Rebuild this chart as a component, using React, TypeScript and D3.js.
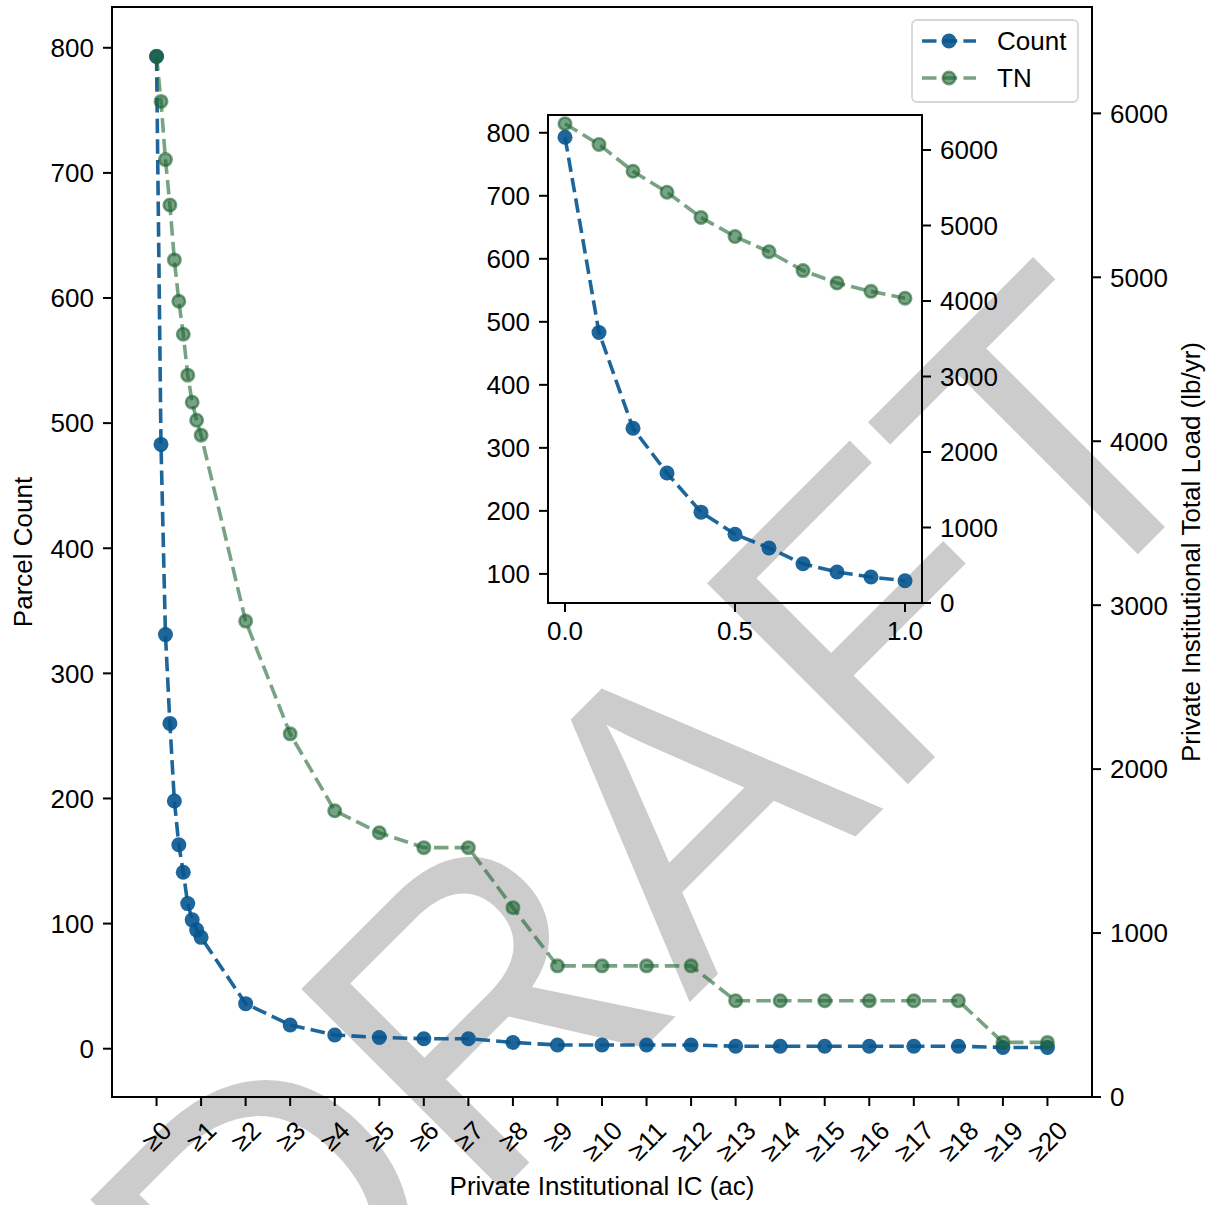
import React from "react";
import * as d3 from "d3";

// ---------- data ----------
const thresholds = [0, 0.1, 0.2, 0.3, 0.4, 0.5, 0.6, 0.7, 0.8, 0.9, 1.0, 2, 3, 4, 5, 6, 7, 8, 9, 10, 11, 12, 13, 14, 15, 16, 17, 18, 19, 20];
const parcelCount = [793, 483, 331, 260, 198, 163, 141, 116, 103, 95, 89, 36, 19, 11, 9, 8, 8, 5, 3, 3, 3, 3, 2, 2, 2, 2, 2, 2, 1, 1];
const tnLoad = [6348, 6073, 5718, 5441, 5106, 4854, 4653, 4403, 4238, 4128, 4037, 2903, 2215, 1746, 1612, 1521, 1521, 1155, 800, 800, 800, 800, 587, 587, 587, 587, 587, 587, 333, 333];
const xTickValues = [0, 1, 2, 3, 4, 5, 6, 7, 8, 9, 10, 11, 12, 13, 14, 15, 16, 17, 18, 19, 20];
const xTickLabels = ["≥0", "≥1", "≥2", "≥3", "≥4", "≥5", "≥6", "≥7", "≥8", "≥9", "≥10", "≥11", "≥12", "≥13", "≥14", "≥15", "≥16", "≥17", "≥18", "≥19", "≥20"];
const leftTicks = [0, 100, 200, 300, 400, 500, 600, 700, 800];
const rightTicks = [0, 1000, 2000, 3000, 4000, 5000, 6000];
const insetLeftTicks = [100, 200, 300, 400, 500, 600, 700, 800];
const insetRightTicks = [0, 1000, 2000, 3000, 4000, 5000, 6000];
const insetXTicks = [0, 0.5, 1.0];
const seriesNames = ["Count", "TN"];

// ---------- style ----------
const FONT = "'Liberation Sans', Arial, Helvetica, sans-serif";
const FS = 26;
const BLUE = "#05558f";
const BLUE_OP = 0.9;
const GREEN = "#1e6432";
const GREEN_OP = 0.6;
const DASH = "14.5 6.2";
const LW = 3.6;
const TICK = 9;
const PAD = 9;

function pad(ext: [number, number], frac = 0.05): [number, number] {
  const r = ext[1] - ext[0];
  return [ext[0] - r * frac, ext[1] + r * frac];
}

function labelWidth(s: string) {
  let w = 0;
  for (const ch of s) w += ch === "≥" ? 0.548 : 0.556;
  return w * FS;
}

export default function App() {
  const W = 1209, H = 1205;
  // main axes
  const L = 112, R = 1092, T = 7, B = 1097;
  const x = d3.scaleLinear().domain([-1, 21]).range([L, R]);
  const yL = d3.scaleLinear().domain(pad(d3.extent(parcelCount) as [number, number])).range([B, T]);
  const tnExt = pad(d3.extent(tnLoad) as [number, number]);
  const yR = d3.scaleLinear().domain([0, tnExt[1]]).range([B, T]);

  // inset axes
  const iL = 548, iR = 922, iT = 115, iB = 603;
  const insetN = 11;
  const insX = thresholds.slice(0, insetN);
  const insC = parcelCount.slice(0, insetN);
  const insT = tnLoad.slice(0, insetN);
  const xi = d3.scaleLinear().domain(pad([0, 1])).range([iL, iR]);
  const yiL = d3.scaleLinear().domain(pad(d3.extent(insC) as [number, number])).range([iB, iT]);
  const yiR = d3.scaleLinear().domain([0, pad(d3.extent(insT) as [number, number])[1]]).range([iB, iT]);

  const idx = thresholds.map((_, i) => i);
  const countLine = d3.line<number>().x((i) => x(thresholds[i])).y((i) => yL(parcelCount[i]));
  const tnLine = d3.line<number>().x((i) => x(thresholds[i])).y((i) => yR(tnLoad[i]));
  const iidx = insX.map((_, i) => i);
  const iCountLine = d3.line<number>().x((i) => xi(insX[i])).y((i) => yiL(insC[i]));
  const iTnLine = d3.line<number>().x((i) => xi(insX[i])).y((i) => yiR(insT[i]));

  const tickStyle = { stroke: "#000", strokeWidth: 2 };
  const textStyle: React.CSSProperties = { fontFamily: FONT, fontSize: FS, fill: "#000" };

  const CountMarker = ({ cx, cy }: { cx: number; cy: number }) => (
    <circle cx={cx} cy={cy} r={7.5} fill={BLUE} fillOpacity={BLUE_OP} />
  );
  const TnMarker = ({ cx, cy }: { cx: number; cy: number }) => (
    <circle cx={cx} cy={cy} r={6.2} fill={GREEN} fillOpacity={GREEN_OP} stroke={GREEN} strokeOpacity={GREEN_OP} strokeWidth={2.6} />
  );

  // legend geometry
  const lgX = 912, lgY = 20, lgW = 166, lgH = 82;
  const lgRows = [41, 78];

  return (
    <svg width={W} height={H} style={{ position: "absolute", left: 0, top: 0, display: "block", background: "#fff" }}>
      {/* watermark */}
      <text x={754} y={938} transform="rotate(-45 754 938)" textAnchor="middle" fontFamily={FONT} fontSize={413} fill="#cccccc">
        DRAFT
      </text>

      {/* ---------- main axes ---------- */}
      {/* count series */}
      <path d={countLine(idx) || ""} fill="none" stroke={BLUE} strokeOpacity={BLUE_OP} strokeWidth={LW} strokeDasharray={DASH} />
      {idx.map((i) => (
        <CountMarker key={"c" + i} cx={x(thresholds[i])} cy={yL(parcelCount[i])} />
      ))}
      {/* TN series (twin axis, drawn on top) */}
      <path d={tnLine(idx) || ""} fill="none" stroke={GREEN} strokeOpacity={GREEN_OP} strokeWidth={LW} strokeDasharray={DASH} />
      {idx.map((i) => (
        <TnMarker key={"t" + i} cx={x(thresholds[i])} cy={yR(tnLoad[i])} />
      ))}

      {/* spines */}
      <rect x={L} y={T} width={R - L} height={B - T} fill="none" stroke="#000" strokeWidth={2} />

      {/* left ticks */}
      {leftTicks.map((v) => (
        <g key={"lt" + v}>
          <line x1={L - TICK} x2={L} y1={yL(v)} y2={yL(v)} {...tickStyle} />
          <text x={L - TICK - PAD} y={yL(v)} dy="0.36em" textAnchor="end" style={textStyle}>{v}</text>
        </g>
      ))}
      {/* right ticks */}
      {rightTicks.map((v) => (
        <g key={"rt" + v}>
          <line x1={R} x2={R + TICK} y1={yR(v)} y2={yR(v)} {...tickStyle} />
          <text x={R + TICK + PAD} y={yR(v)} dy="0.36em" textAnchor="start" style={textStyle}>{v}</text>
        </g>
      ))}
      {/* bottom ticks */}
      {xTickValues.map((v, k) => {
        const lab = xTickLabels[k];
        const w = labelWidth(lab);
        const h = FS * 1.15;
        const half = ((w + h) * Math.SQRT1_2) / 2;
        const cx = x(v);
        const cy = B + TICK + PAD + half;
        return (
          <g key={"bt" + v}>
            <line x1={cx} x2={cx} y1={B} y2={B + TICK} {...tickStyle} />
            <text x={cx} y={cy} dy="0.36em" textAnchor="middle" transform={`rotate(-45 ${cx} ${cy})`} style={textStyle}>{lab}</text>
          </g>
        );
      })}

      {/* axis labels */}
      <text x={(L + R) / 2} y={1195} textAnchor="middle" style={textStyle}>Private Institutional IC (ac)</text>
      <text x={32} y={(T + B) / 2} textAnchor="middle" transform={`rotate(-90 32 ${(T + B) / 2})`} style={textStyle}>Parcel Count</text>
      <text x={1200} y={(T + B) / 2} textAnchor="middle" transform={`rotate(-90 1200 ${(T + B) / 2})`} style={textStyle}>Private Institutional Total Load (lb/yr)</text>

      {/* legend */}
      <rect x={lgX} y={lgY} width={lgW} height={lgH} rx={5} fill="#fff" fillOpacity={0.8} stroke="#cccccc" strokeOpacity={0.8} strokeWidth={1.8} />
      {seriesNames.map((name, k) => {
        const yy = lgRows[k];
        const isCount = k === 0;
        return (
          <g key={"lg" + name}>
            <line x1={922} x2={976} y1={yy} y2={yy} stroke={isCount ? BLUE : GREEN} strokeOpacity={isCount ? BLUE_OP : GREEN_OP} strokeWidth={LW} strokeDasharray={DASH} />
            {isCount ? <CountMarker cx={949} cy={yy} /> : <TnMarker cx={949} cy={yy} />}
            <text x={997} y={yy} dy="0.36em" style={textStyle}>{name}</text>
          </g>
        );
      })}

      {/* ---------- inset axes ---------- */}
      <path d={iCountLine(iidx) || ""} fill="none" stroke={BLUE} strokeOpacity={BLUE_OP} strokeWidth={LW} strokeDasharray={DASH} />
      {iidx.map((i) => (
        <CountMarker key={"ic" + i} cx={xi(insX[i])} cy={yiL(insC[i])} />
      ))}
      <path d={iTnLine(iidx) || ""} fill="none" stroke={GREEN} strokeOpacity={GREEN_OP} strokeWidth={LW} strokeDasharray={DASH} />
      {iidx.map((i) => (
        <TnMarker key={"it" + i} cx={xi(insX[i])} cy={yiR(insT[i])} />
      ))}
      <rect x={iL} y={iT} width={iR - iL} height={iB - iT} fill="none" stroke="#000" strokeWidth={2} />
      {insetLeftTicks.map((v) => (
        <g key={"ilt" + v}>
          <line x1={iL - TICK} x2={iL} y1={yiL(v)} y2={yiL(v)} {...tickStyle} />
          <text x={iL - TICK - PAD} y={yiL(v)} dy="0.36em" textAnchor="end" style={textStyle}>{v}</text>
        </g>
      ))}
      {insetRightTicks.map((v) => (
        <g key={"irt" + v}>
          <line x1={iR} x2={iR + TICK} y1={yiR(v)} y2={yiR(v)} {...tickStyle} />
          <text x={iR + TICK + PAD} y={yiR(v)} dy="0.36em" textAnchor="start" style={textStyle}>{v}</text>
        </g>
      ))}
      {insetXTicks.map((v) => (
        <g key={"ixt" + v}>
          <line x1={xi(v)} x2={xi(v)} y1={iB} y2={iB + TICK} {...tickStyle} />
          <text x={xi(v)} y={iB + TICK + PAD} dy="0.72em" textAnchor="middle" style={textStyle}>{v.toFixed(1)}</text>
        </g>
      ))}
    </svg>
  );
}
